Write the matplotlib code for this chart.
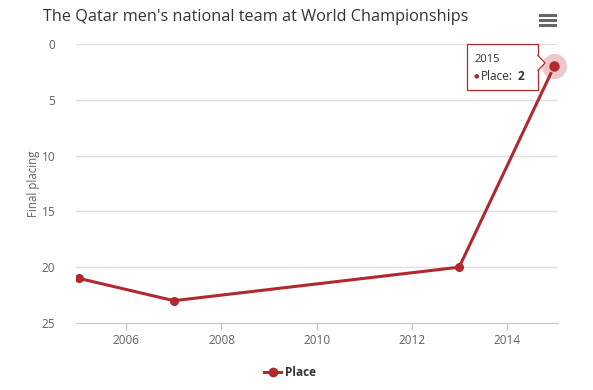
import matplotlib.pyplot as plt
from matplotlib.patches import FancyBboxPatch, Polygon
from matplotlib.lines import Line2D

# data
years = [2005, 2007, 2013, 2015]
place = [21, 23, 20, 2]
x_ticks = [2006, 2008, 2010, 2012, 2014]
y_ticks = [0, 5, 10, 15, 20, 25]

RED = '#b1282f'
GRID = '#e0e0e0'
TXT = '#606060'

plt.rcParams['font.family'] = ['Open Sans', 'DejaVu Sans']

fig = plt.figure(figsize=(5.93, 3.90), dpi=100)
ax = fig.add_axes([76 / 593, 67 / 390, 482 / 593, 279 / 390])

ax.plot(years, place, color=RED, lw=2.2, marker='o', ms=5.5,
        markeredgecolor=RED, zorder=3)
# hover halo on last point
ax.plot(years[-1], place[-1], 'o', ms=18, color=RED, alpha=0.25,
        markeredgewidth=0, zorder=2, clip_on=False)
ax.plot(years[-1], place[-1], 'o', ms=8.5, color=RED, zorder=4,
        markeredgecolor='#f4c4c6', markeredgewidth=1, clip_on=False)

ax.set_xlim(2004.94, 2015.08)
ax.set_ylim(25, 0)
ax.set_xticks(x_ticks)
ax.set_yticks(y_ticks)
ax.yaxis.grid(True, color=GRID, lw=1)
ax.set_axisbelow(True)
for s in ['top', 'right', 'left']:
    ax.spines[s].set_visible(False)
ax.spines['bottom'].set_color('#c8c8c8')
ax.tick_params(axis='x', colors='#c8c8c8', labelcolor=TXT, labelsize=8.5,
               length=5, width=1, pad=3)
ax.tick_params(axis='y', length=0, labelcolor=TXT, labelsize=8.5, pad=15)
ax.set_ylabel('Final placing', color=TXT, fontsize=8.3, labelpad=1)

fig.text(256 / 593, 1 - 17 / 390,
         "The Qatar men's national team at World Championships",
         ha='center', va='center', fontsize=11.7, color='#333333')

# menu icon
for dy in (15, 20, 25):
    fig.add_artist(Line2D([540 / 593, 555 / 593], [1 - dy / 390] * 2,
                          color='#666666', lw=2.2))

# tooltip
bx0, by0, bw, bh = 467, 44, 71, 46
box = FancyBboxPatch((bx0 / 593, 1 - (by0 + bh) / 390), bw / 593, bh / 390,
                     boxstyle='square,pad=0', transform=fig.transFigure,
                     facecolor='white', edgecolor=RED, lw=0.9, zorder=10)
fig.add_artist(box)
ptr = Polygon([[(bx0 + bw - 0.5) / 593, 1 - 55 / 390],
               [(bx0 + bw + 7) / 593, 1 - 63 / 390],
               [(bx0 + bw - 0.5) / 593, 1 - 71 / 390]],
              closed=False, transform=fig.transFigure, facecolor='white',
              edgecolor=RED, lw=0.9, zorder=11)
fig.add_artist(ptr)
fig.text(474 / 593, 1 - 59 / 390, '2015', fontsize=8, color='#333333',
         va='center', zorder=12)
fig.text(474 / 593, 1 - 76 / 390, '\u25cf', fontsize=4.5, color=RED,
         va='center', zorder=12)
fig.text(481 / 593, 1 - 76 / 390, 'Place:', fontsize=8.5, color='#333333',
         va='center', zorder=12)
fig.text(518 / 593, 1 - 76 / 390, '2', fontsize=8.5, color='#333333',
         fontweight='bold', va='center', zorder=12)

# legend
fig.add_artist(Line2D([264 / 593, 281 / 593], [1 - 372 / 390] * 2,
                      color=RED, lw=2.2))
fig.add_artist(Line2D([272.5 / 593], [1 - 372 / 390], color=RED,
                      marker='o', ms=6, lw=0))
fig.text(285 / 593, 1 - 372 / 390, 'Place', fontsize=8.5,
         fontweight='bold', color='#333333', va='center')

fig.savefig('out.png', dpi=100)
